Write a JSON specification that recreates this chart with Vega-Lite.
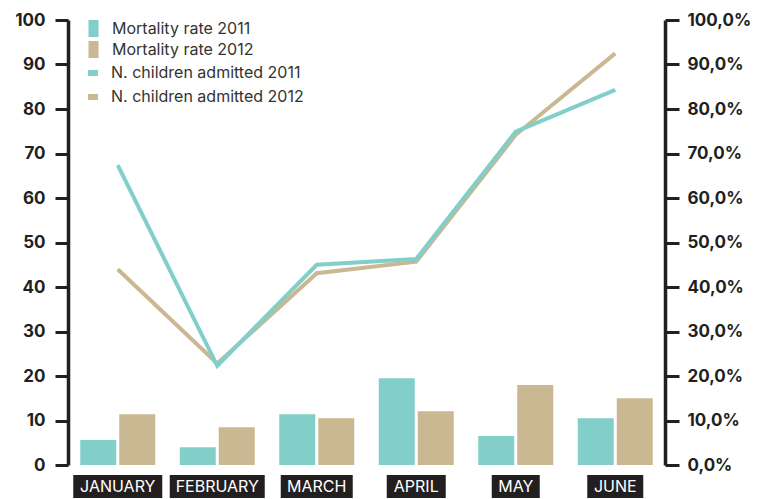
{
  "$schema": "https://vega.github.io/schema/vega-lite/v6.json",
  "width": 597,
  "height": 445,
  "autosize": {"type": "none"},
  "padding": {"left": 68, "top": 20, "right": 105, "bottom": 34},
  "background": "white",
  "config": {"font": "Inter", "view": {"stroke": null}, "axis": {"grid": false}},
  "datasets": {
    "bars": [
      {"month": "JANUARY", "series": "Mortality rate 2011", "value": 5.6},
      {"month": "JANUARY", "series": "Mortality rate 2012", "value": 11.4},
      {"month": "FEBRUARY", "series": "Mortality rate 2011", "value": 4.0},
      {"month": "FEBRUARY", "series": "Mortality rate 2012", "value": 8.5},
      {"month": "MARCH", "series": "Mortality rate 2011", "value": 11.4},
      {"month": "MARCH", "series": "Mortality rate 2012", "value": 10.5},
      {"month": "APRIL", "series": "Mortality rate 2011", "value": 19.5},
      {"month": "APRIL", "series": "Mortality rate 2012", "value": 12.1},
      {"month": "MAY", "series": "Mortality rate 2011", "value": 6.5},
      {"month": "MAY", "series": "Mortality rate 2012", "value": 17.95},
      {"month": "JUNE", "series": "Mortality rate 2011", "value": 10.5},
      {"month": "JUNE", "series": "Mortality rate 2012", "value": 15.0}
    ],
    "line2011": [
      {"month": "JANUARY", "series": "N. children admitted 2011", "value": 67.4},
      {"month": "FEBRUARY", "series": "N. children admitted 2011", "value": 22.3},
      {"month": "MARCH", "series": "N. children admitted 2011", "value": 45.0},
      {"month": "APRIL", "series": "N. children admitted 2011", "value": 46.3},
      {"month": "MAY", "series": "N. children admitted 2011", "value": 74.9},
      {"month": "JUNE", "series": "N. children admitted 2011", "value": 84.3}
    ],
    "line2012": [
      {"month": "JANUARY", "series": "N. children admitted 2012", "value": 44.0},
      {"month": "FEBRUARY", "series": "N. children admitted 2012", "value": 22.8},
      {"month": "MARCH", "series": "N. children admitted 2012", "value": 43.1},
      {"month": "APRIL", "series": "N. children admitted 2012", "value": 45.7},
      {"month": "MAY", "series": "N. children admitted 2012", "value": 74.2},
      {"month": "JUNE", "series": "N. children admitted 2012", "value": 92.5}
    ],
    "months": [
      {"month": "JANUARY"},
      {"month": "FEBRUARY"},
      {"month": "MARCH"},
      {"month": "APRIL"},
      {"month": "MAY"},
      {"month": "JUNE"}
    ]
  },
  "layer": [
    {
      "data": {"name": "bars"},
      "mark": {"type": "bar"},
      "encoding": {
        "x": {
          "field": "month", "type": "nominal",
          "sort": ["JANUARY", "FEBRUARY", "MARCH", "APRIL", "MAY", "JUNE"],
          "scale": {"paddingInner": 0, "paddingOuter": 0},
          "axis": {"orient": "bottom", "labels": false, "title": null, "tickSize": -8, "tickWidth": 3, "tickColor": "#231f20", "domainColor": "#231f20", "domainWidth": 3, "bandPosition": 0}
        },
        "xOffset": {
          "field": "series", "type": "nominal",
          "sort": ["Mortality rate 2011", "Mortality rate 2012"],
          "scale": {"paddingInner": 0.077, "paddingOuter": 0.314}
        },
        "y": {
          "field": "value", "type": "quantitative",
          "scale": {"domain": [0, 100], "nice": false},
          "axis": {
            "orient": "right", "title": null,
            "values": [0, 10, 20, 30, 40, 50, 60, 70, 80, 90, 100],
            "labelExpr": "replace(format(datum.value, '.1f'), '.', ',') + '%'",
            "tickSize": 14, "tickWidth": 3, "tickColor": "#231f20",
            "domainColor": "#231f20", "domainWidth": 3.5,
            "labelFont": "Inter", "labelFontWeight": "bold", "labelFontSize": 17,
            "labelColor": "#231f20", "labelPadding": 8
          }
        },
        "fill": {
          "field": "series", "type": "nominal",
          "scale": {"domain": ["Mortality rate 2011", "Mortality rate 2012"], "range": ["#82cfc9", "#c9b892"]},
          "legend": {
            "orient": "none", "legendX": 17, "legendY": 0, "title": null,
            "symbolType": "M-0.59,-1H0.59V1H-0.59Z", "symbolSize": 289, "symbolStrokeWidth": 0,
            "labelFont": "Inter", "labelFontSize": 16, "labelColor": "#333333",
            "labelOffset": 10, "rowPadding": 4, "labelLimit": 400
          }
        }
      }
    },
    {
      "data": {"name": "line2012"},
      "mark": {"type": "line", "strokeWidth": 4},
      "encoding": {
        "x": {"field": "month", "type": "nominal", "sort": ["JANUARY", "FEBRUARY", "MARCH", "APRIL", "MAY", "JUNE"], "axis": null},
        "y": {
          "field": "value", "type": "quantitative",
          "scale": {"domain": [0, 100], "nice": false},
          "axis": {
            "orient": "left", "title": null,
            "values": [0, 10, 20, 30, 40, 50, 60, 70, 80, 90, 100],
            "tickSize": 13, "tickWidth": 3, "tickColor": "#231f20",
            "domainColor": "#231f20", "domainWidth": 3.5,
            "labelFont": "Inter", "labelFontWeight": "bold", "labelFontSize": 17,
            "labelColor": "#231f20", "labelPadding": 10
          }
        },
        "stroke": {
          "field": "series", "type": "nominal",
          "scale": {"domain": ["N. children admitted 2011", "N. children admitted 2012"], "range": ["#82cfc9", "#c9b892"]},
          "legend": {
            "orient": "none", "legendX": 17, "legendY": 45, "title": null,
            "symbolType": "M-1,0H1", "symbolSize": 100, "symbolStrokeWidth": 6,
            "labelFont": "Inter", "labelFontSize": 16, "labelColor": "#333333",
            "labelOffset": 10, "rowPadding": 0, "labelLimit": 400
          }
        }
      }
    },
    {
      "data": {"name": "line2011"},
      "mark": {"type": "line", "strokeWidth": 4},
      "encoding": {
        "x": {"field": "month", "type": "nominal", "sort": ["JANUARY", "FEBRUARY", "MARCH", "APRIL", "MAY", "JUNE"], "axis": null},
        "y": {"field": "value", "type": "quantitative", "scale": {"domain": [0, 100], "nice": false}, "axis": null},
        "stroke": {"field": "series", "type": "nominal", "scale": {"domain": ["N. children admitted 2011", "N. children admitted 2012"], "range": ["#82cfc9", "#c9b892"]}}
      }
    },
    {
      "data": {"name": "months"},
      "mark": {"type": "bar", "color": "#231f20"},
      "encoding": {
        "x": {"field": "month", "type": "nominal", "sort": ["JANUARY", "FEBRUARY", "MARCH", "APRIL", "MAY", "JUNE"], "axis": null},
        "y": {"datum": -2.25, "type": "quantitative", "scale": {"domain": [0, 100], "nice": false}, "axis": null},
        "y2": {"datum": -7.4},
        "size": {
          "field": "month", "type": "ordinal",
          "scale": {"type": "ordinal", "domain": ["JANUARY", "FEBRUARY", "MARCH", "APRIL", "MAY", "JUNE"], "range": [89, 95, 72, 59, 48, 56]},
          "legend": null
        }
      }
    },
    {
      "data": {"name": "months"},
      "mark": {"type": "text", "color": "white", "fontSize": 16, "font": "Inter", "baseline": "middle", "align": "center"},
      "encoding": {
        "x": {"field": "month", "type": "nominal", "sort": ["JANUARY", "FEBRUARY", "MARCH", "APRIL", "MAY", "JUNE"], "axis": null},
        "y": {"datum": -4.85, "type": "quantitative", "scale": {"domain": [0, 100], "nice": false}, "axis": null},
        "text": {"field": "month"}
      }
    }
  ],
  "resolve": {"scale": {"y": "independent"}}
}
